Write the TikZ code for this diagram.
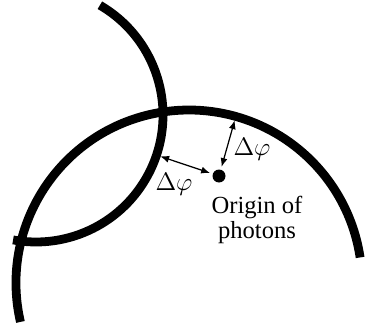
\documentclass[tikz,border=0pt]{standalone}
\usepackage{fontspec}
\setmainfont{Liberation Serif}
\usetikzlibrary{arrows.meta}

\tikzset{
  wavefront/.style={line width=5pt},
  gaparrow/.style={{Latex[length=5pt,width=4pt]}-{Latex[length=5pt,width=4pt]}, line width=0.7pt, shorten >=1.5pt},
  label/.style={font=\fontsize{14}{12.5}\selectfont, inner sep=0pt},
}

\begin{document}
\begin{tikzpicture}[x=0.02cm, y=0.02cm]
  \useasboundingbox (0,0) rectangle (365,332);
  % the two wave fronts
  \draw[wavefront] (189,49) ++(193:173) arc[start angle=193, end angle=8.5, radius=173];
  \draw[wavefront] (36,217) ++(59.8:127) arc[start angle=59.8, end angle=-100.4, radius=127];

  % source point
  \node[circle, fill, inner sep=0pt, minimum size=0.26cm] (origin) at (219,156) {};
  \node[label, align=center] (origintext) at (257,112) {Origin of\\photons};

  % distance to each front
  \path (189,49) ++(74.3:169) coordinate (front1);
  \path (36,217) ++(-18.4:131) coordinate (front2);
  \draw[gaparrow] (front1) -- (origin);
  \draw[gaparrow] (front2) -- (origin);
  \node[label] (dphi1) at (252,183) {$\Delta\varphi$};
  \node[label] (dphi2) at (174,148) {$\Delta\varphi$};
\end{tikzpicture}
\end{document}
